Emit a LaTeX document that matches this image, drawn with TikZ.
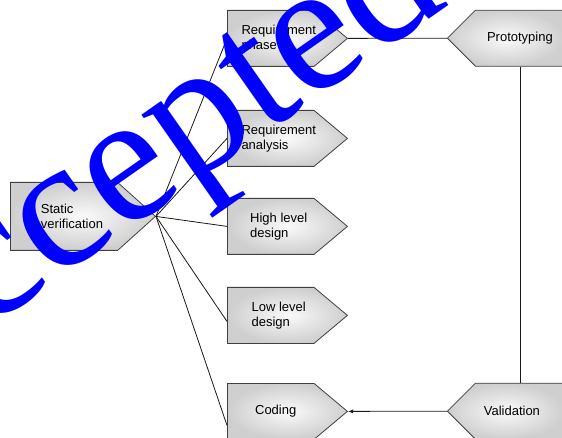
\documentclass[tikz,border=0pt]{standalone}
\usepackage{fontspec}
\setsansfont{Liberation Sans}
\newfontfamily\stampfont{Liberation Serif}
\usetikzlibrary{shapes.symbols,arrows.meta}
\newcommand{\pad}[2][8pt]{\hspace*{#1}#2\hspace*{-#1}}

\begin{document}
\begin{tikzpicture}[x=1pt,y=-1pt,
        stage/.style={signal, signal to=east, draw=black!75, line width=0.8pt,
            inner color=black!2, outer color=black!19,
            minimum width=120pt, minimum height=56pt, signal pointer angle=80,
            anchor=north west, inner sep=2pt, align=left,
            font=\sffamily\fontsize{13}{15}\selectfont},
        back/.style={stage, signal to=west, signal pointer angle=90, minimum width=117pt},
        link/.style={draw=black!90, line width=0.8pt}]
    \useasboundingbox (0,0) rectangle (562,438);
    \clip (0,0) rectangle (562,438);
    % phases
    \node[stage, minimum width=145pt, minimum height=68pt, signal pointer angle=84] (sv) at (10,182) {\pad{Static}\\\pad{verification}};
    \node[stage] (rp) at (227,10) {\pad{Requirement}\\\pad{phase}};
    \node[stage] (ra) at (227,110) {\pad{Requirement}\\\pad{analysis}};
    \node[stage] (hld) at (227,198) {\pad{High level}\\\pad{design}};
    \node[stage] (lld) at (227,287) {\pad{Low level}\\\pad{design}};
    \node[stage] (cod) at (227,383) {\pad[5pt]{Coding}};
    \node[back] (proto) at (475,10) {Prototyping};
    \node[back] (val) at (475,383) {\pad[-8pt]{Validation}};
    % links
    \draw[link] (sv.east) -- (rp.west);
    \draw[link] (sv.east) -- (ra.west);
    \draw[link] (sv.east) -- (hld.west);
    \draw[link] (sv.east) -- ([yshift=-6pt]lld.west);
    \draw[link] (sv.east) -- ([yshift=-14pt]cod.west);
    \draw[link] (proto.west) -- (rp.east);
    \draw[link] (proto.south) -- (proto.south |- val.north);
    \draw[link, -{Latex[length=5pt,width=4pt]}] (val.west) -- (cod.east);
    % stamp
    \node[text=blue, rotate=35, inner sep=0pt, font=\stampfont\fontsize{186}{186}\selectfont] (stamp) at (137,169) {Accepted};
\end{tikzpicture}
\end{document}
